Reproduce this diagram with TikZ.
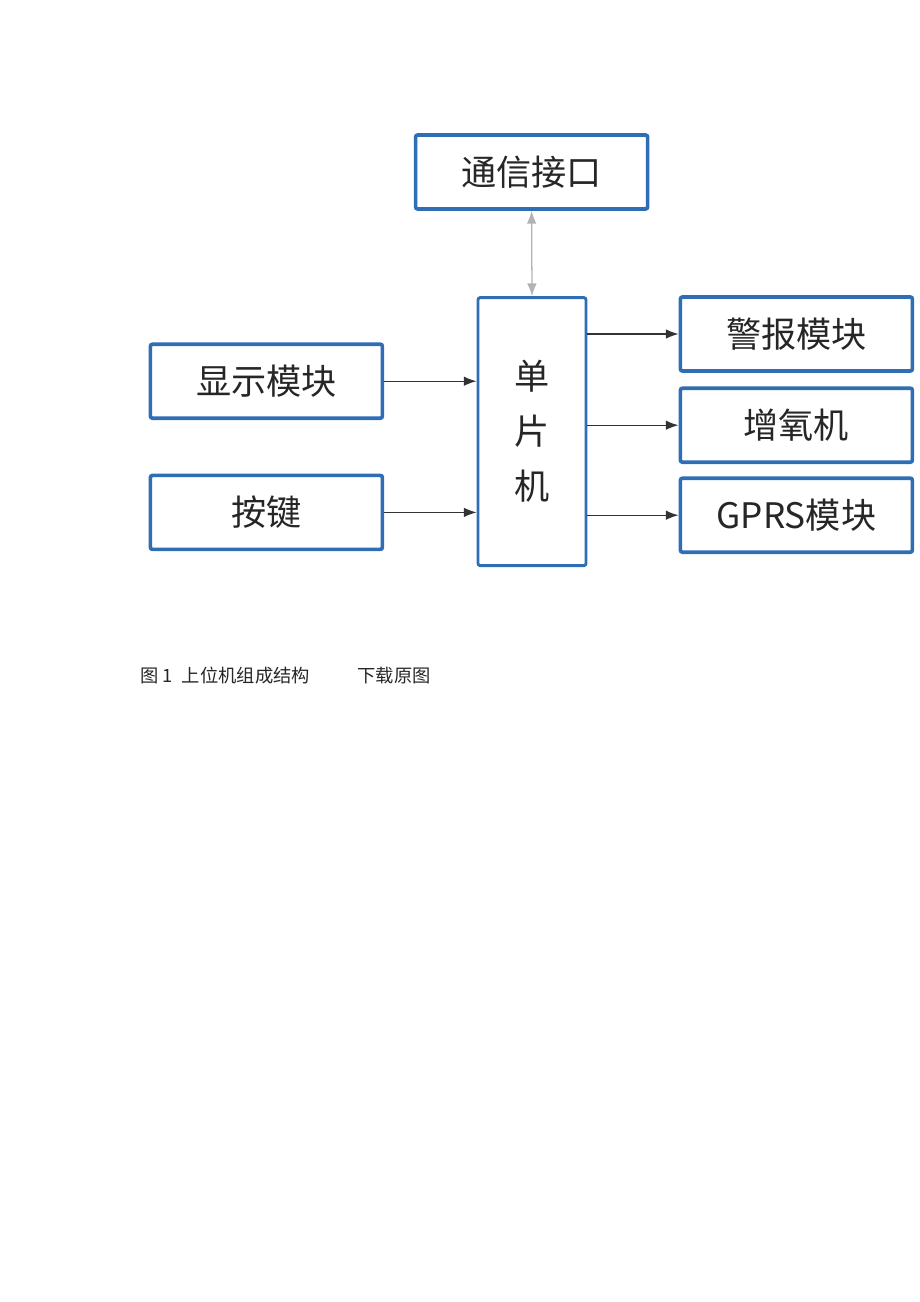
\documentclass[tikz,border=0pt]{standalone}
\usepackage{fontspec}
\setmainfont{Noto Sans CJK SC}
\usetikzlibrary{arrows.meta}
\definecolor{boxblue}{HTML}{2F6DB5}
\definecolor{linegray}{HTML}{333333}
\begin{document}
\begin{tikzpicture}[
	modbox/.style={draw=boxblue, line width=2.6pt, rounded corners=1.5pt, fill=white,
		minimum width=5.8cm, minimum height=1.85cm, inner sep=0pt, font=\fontsize{25}{30}\selectfont, text=black!85},
	mcubox/.style={modbox, minimum width=2.7cm, minimum height=6.7cm, line width=2pt, align=center},
	link/.style={-{Latex[length=0.32cm,width=0.24cm]}, color=linegray, line width=0.9pt},
	duallink/.style={{Latex[length=0.32cm,width=0.24cm]}-{Latex[length=0.32cm,width=0.24cm]}, color=black!30, line width=0.9pt},
	]
	\useasboundingbox (0,0) rectangle (23,-32.55);

	% upper block and mcu
	\node[modbox] (comm) at(13.29,-4.3){通信接口};
	\node[mcubox] (mcu) at(13.3,-10.79){单\\[0.32cm]片\\[0.32cm]机};

	% left side
	\node[modbox] (disp) at(6.66,-9.53){显示模块};
	\node[modbox] (keys) at(6.66,-12.81){按键};

	% right side
	\node[modbox] (alarm) at(19.91,-8.35){警报模块};
	\node[modbox] (aer) at(19.91,-10.63){增氧机};
	\node[modbox] (gprs) at(19.91,-12.88){GPRS模块};

	\draw[duallink] (comm.south) to (mcu.north);
	\draw[link] (disp.east) to (disp.east -| mcu.west);
	\draw[link] (keys.east) to (keys.east -| mcu.west);
	\draw[link] (mcu.east |- alarm.west) to (alarm.west);
	\draw[link] (mcu.east |- aer.west) to (aer.west);
	\draw[link] (mcu.east |- gprs.west) to (gprs.west);

	% caption
	\node[anchor=west, inner sep=0pt, font=\fontsize{13}{15}\selectfont, text=black!85] (cap) at(3.5,-16.9){图 1\enspace 上位机组成结构};
	\node[anchor=west, inner sep=0pt, font=\fontsize{13}{15}\selectfont, text=black!85] (down) at(8.93,-16.9){下载原图};
\end{tikzpicture}
\end{document}
